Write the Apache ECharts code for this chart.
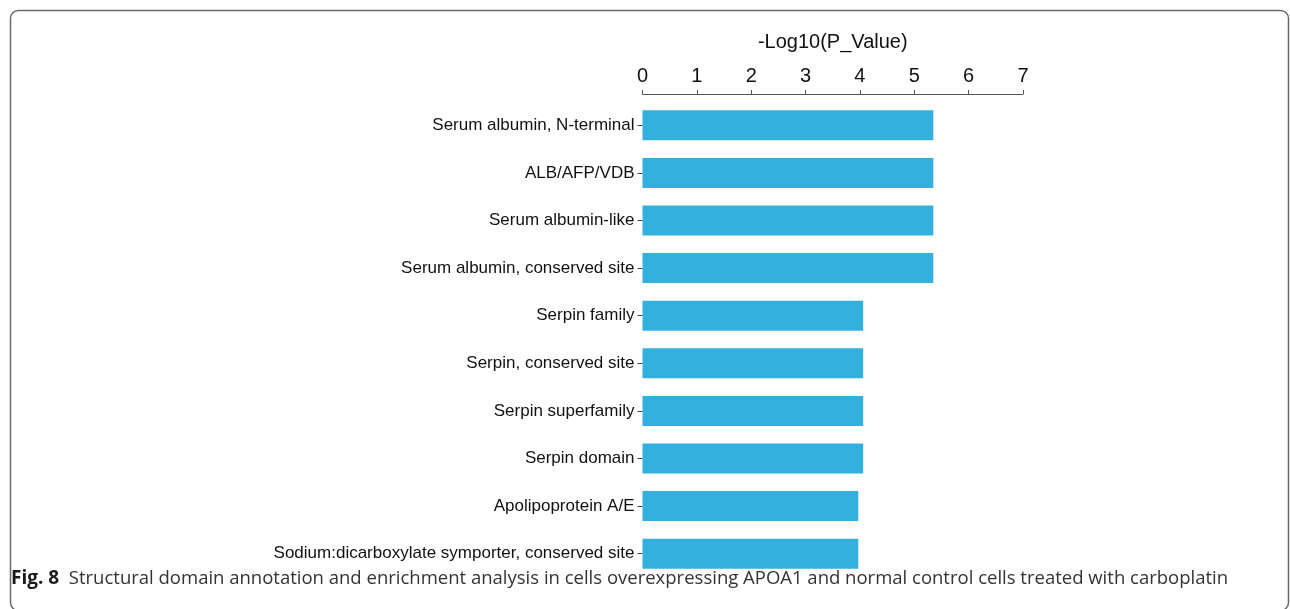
<!DOCTYPE html>
<html>
<head>
<meta charset="utf-8">
<script src="https://cdn.jsdelivr.net/npm/echarts@6/dist/echarts.min.js"></script>
<style>
  html, body { margin: 0; padding: 0; background: #ffffff; }
  #chart { width: 1290px; height: 609px; }
</style>
</head>
<body>
<div id="chart"></div>
<script>
// Enriched structural domains and their -log10(p) scores
const domains = [
  'Serum albumin, N-terminal',
  'ALB/AFP/VDB',
  'Serum albumin-like',
  'Serum albumin, conserved site',
  'Serpin family',
  'Serpin, conserved site',
  'Serpin superfamily',
  'Serpin domain',
  'Apolipoprotein A/E',
  'Sodium:dicarboxylate symporter, conserved site'
];
const negLogP = [5.35, 5.35, 5.35, 5.35, 4.06, 4.06, 4.06, 4.06, 3.97, 3.97];
const axisTicks = [0, 1, 2, 3, 4, 5, 6, 7];
const axisTitle = '-Log10(P_Value)';
const captionLead = 'Fig. 8';
const captionText = 'Structural domain annotation and enrichment analysis in cells overexpressing APOA1 and normal control cells treated with carboplatin';

const chart = echarts.init(document.getElementById('chart'), null, { renderer: 'canvas' });

const labelFont = '"Liberation Sans", Arial, Helvetica, sans-serif';

chart.setOption({
  animation: false,
  backgroundColor: '#ffffff',
  grid: { left: 642.5, right: 267, top: 101.5, bottom: 31.5, containLabel: false },
  xAxis: {
    type: 'value',
    position: 'top',
    offset: 7.5,
    min: axisTicks[0],
    max: axisTicks[axisTicks.length - 1],
    interval: 1,
    name: axisTitle,
    nameLocation: 'middle',
    nameGap: 42,
    nameTextStyle: { fontFamily: labelFont, fontSize: 20, color: '#111111' },
    axisLine: { show: true, lineStyle: { color: '#555555', width: 1 } },
    axisTick: { show: true, length: 4, lineStyle: { color: '#555555' } },
    axisLabel: { margin: 8, fontFamily: labelFont, fontSize: 20, color: '#111111' },
    splitLine: { show: false }
  },
  yAxis: {
    type: 'category',
    inverse: true,
    data: domains,
    axisLine: { show: false },
    axisTick: { show: true, length: 5, alignWithLabel: true, lineStyle: { color: '#444444' } },
    axisLabel: { margin: 8, fontFamily: labelFont, fontSize: 17, color: '#111111' }
  },
  series: [{
    type: 'bar',
    data: negLogP,
    barWidth: 30,
    itemStyle: { color: '#33b0de' }
  }],
  graphic: [
    {
      type: 'rect',
      shape: { x: 10.5, y: 10.5, width: 1278, height: 600, r: 8 },
      style: { fill: 'none', stroke: '#6a6a6a', lineWidth: 1.5 },
      silent: true
    },
    {
      type: 'text',
      left: 11,
      top: 569,
      style: {
        rich: {
          b: { fontFamily: '"Open Sans", sans-serif', fontWeight: 'bold', fontSize: 19, fill: '#1a1a1a' },
          n: { fontFamily: '"Open Sans", sans-serif', fontSize: 18.5, fill: '#333333' }
        },
        text: '{b|' + captionLead + '}{n|  ' + captionText + '}'
      }
    }
  ]
});
</script>
</body>
</html>
